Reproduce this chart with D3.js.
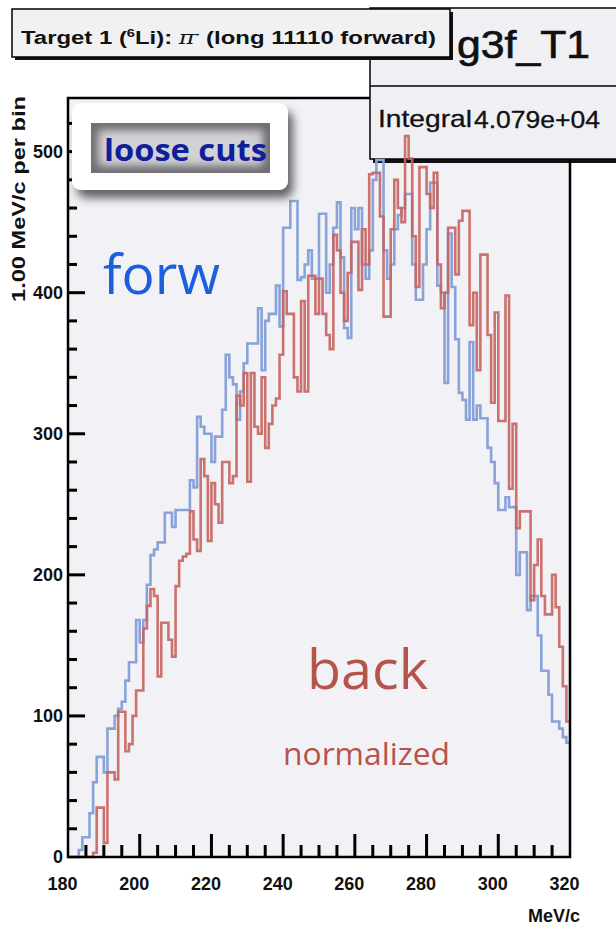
<!DOCTYPE html>
<html><head><meta charset="utf-8">
<script src="https://cdn.jsdelivr.net/npm/d3@7"></script>
<style>
html,body{margin:0;padding:0;background:#fff;}
svg{display:block;}
</style></head>
<body>
<svg id="c" width="616" height="942" xmlns="http://www.w3.org/2000/svg"></svg>
<script>
// ---- data: bin lower edges 180..319 (1 MeV/c per bin) ----
const binStart = 180, binWidth = 1;
const forwValues = [
  0,0,0,5,14,14,31,53,71,71,            // 180-189
  60,91,91,100,105,110,125,138,138,168, // 190-199
  152,168,193,214,218,223,223,244,244,234, // 200-209
  246,246,246,246,267,262,312,305,300,300, // 210-219
  280,298,298,317,356,340,335,310,330,350, // 220-229
  364,364,364,389,345,380,385,385,405,376, // 230-239
  446,446,465,465,409,411,420,430,410,410, // 240-249
  456,456,400,420,446,464,425,375,368,460, // 250-259
  445,460,420,410,430,480,494,494,430,410, // 260-269
  420,445,455,460,470,470,420,395,395,420, // 270-279
  445,478,478,405,400,336,442,404,367,329, // 280-289
  324,310,365,310,320,311,311,290,280,265, // 290-299
  246,246,255,248,248,200,216,216,175,185, // 300-309
  185,157,132,132,115,96,96,91,85,81       // 310-319
];
const backValues = [
  0,0,0,0,0,0,0,3,35,35,                // 180-189
  10,60,60,55,103,103,75,80,100,118,    // 190-199
  118,162,178,190,185,128,166,166,154,142, // 200-209
  192,210,213,215,245,225,217,282,270,224, // 210-219
  265,250,237,280,280,265,270,327,320,343, // 220-229
  266,343,305,300,340,290,307,320,325,356, // 230-239
  401,385,385,340,330,394,330,412,412,385, // 240-249
  410,385,370,360,441,430,400,380,414,436, // 250-259
  436,402,445,420,484,485,485,454,383,383, // 260-269
  445,480,460,450,511,495,440,404,489,489, // 270-279
  470,460,485,420,389,400,446,446,413,451, // 280-289
  458,458,377,400,345,427,427,370,322,386, // 290-299
  309,309,398,261,307,233,245,245,245,182, // 300-309
  207,225,185,172,172,200,177,149,121,96   // 310-319
];
const xTickValues = [180,200,220,240,260,280,300,320];
const xMinorValues = [185,190,195,205,210,215,225,230,235,245,250,255,265,270,275,285,290,295,305,310,315];
const yTickValues = [0,100,200,300,400,500];
const yMinorValues = [20,40,60,80,120,140,160,180,220,240,260,280,320,340,360,380,420,440,460,480,520];
const histName = "g3f_T1";
const statLabel = "Integral";
const statValue = "4.079e+04";
const xTitle = "MeV/c";
const yTitle = "1.00 MeV/c per bin";

// ---- layout ----
const svg = d3.select("#c");
const F = {left:68, right:570, top:98, bottom:857};
const xs = d3.scaleLinear().domain([180,320]).range([F.left,F.right]);
const ys = d3.scaleLinear().domain([0,538]).range([F.bottom,F.top]);
const HF = "'Liberation Sans', Arial, Helvetica, sans-serif";
const AF = "'Open Sans', 'Noto Sans', sans-serif";

const defs = svg.append("defs");
const f1 = defs.append("filter").attr("id","shadow").attr("x","-20%").attr("y","-20%").attr("width","150%").attr("height","170%");
f1.append("feDropShadow").attr("dx",5).attr("dy",8).attr("stdDeviation",5).attr("flood-color","#000").attr("flood-opacity",0.6);
const f2 = defs.append("filter").attr("id","blur4");
f2.append("feGaussianBlur").attr("stdDeviation",4);
defs.append("clipPath").attr("id","innerClip").append("rect")
  .attr("x",91).attr("y",123).attr("width",179).attr("height",50);

function fit(sel, w){
  const n = sel.node(); const L = n.getComputedTextLength();
  if (L>0) sel.attr("textLength", w).attr("lengthAdjust","spacingAndGlyphs");
}

// frame fill
svg.append("rect").attr("x",F.left).attr("y",F.top).attr("width",F.right-F.left).attr("height",F.bottom-F.top)
  .attr("fill","#f1f1f6");

// tick labels via d3 axes
const yAx = svg.append("g").attr("transform",`translate(${F.left},0)`)
  .call(d3.axisLeft(ys).tickValues(yTickValues).tickSize(0).tickPadding(5).tickFormat(d3.format("d")));
const xAx = svg.append("g").attr("transform",`translate(0,${F.bottom})`)
  .call(d3.axisBottom(xs).tickValues(xTickValues).tickSize(0).tickPadding(20).tickFormat(d3.format("d")));
[yAx,xAx].forEach(g=>{
  g.select(".domain").remove();
  g.selectAll("text").attr("font-family",HF).attr("font-weight","bold").attr("font-size",18).attr("fill","#111");
});
xAx.selectAll("text").attr("dx",-6);

// stats box (under title box)
svg.append("rect").attr("x",373).attr("y",11).attr("width",260).attr("height",152).attr("fill","#111");
svg.append("rect").attr("x",370).attr("y",8).attr("width",260).attr("height",151)
  .attr("fill","#f0f0f4").attr("stroke","#000").attr("stroke-width",1.5);
svg.append("line").attr("x1",370).attr("x2",616).attr("y1",86).attr("y2",86).attr("stroke","#000").attr("stroke-width",1.5);
const gN = svg.append("text").attr("x",457).attr("y",58).attr("font-family",HF).attr("font-size",38)
  .attr("stroke","#111").attr("stroke-width",0.7).attr("fill","#111").text(histName);
fit(gN,133);
const sL = svg.append("text").attr("x",378).attr("y",127).attr("font-family",HF).attr("font-size",24)
  .attr("stroke","#111").attr("stroke-width",0.3).attr("fill","#111").text(statLabel);
fit(sL,94);
const sV = svg.append("text").attr("x",474).attr("y",128).attr("font-family",HF).attr("font-size",24)
  .attr("stroke","#111").attr("stroke-width",0.3).attr("fill","#111").text(statValue);
fit(sV,126);

// title box
svg.append("rect").attr("x",15).attr("y",12).attr("width",438).attr("height",48).attr("fill","#111");
svg.append("rect").attr("x",12).attr("y",9).attr("width",438).attr("height",48)
  .attr("fill","#f1f1f4").attr("stroke","#000").attr("stroke-width",1.5);
const tt = svg.append("text").attr("x",21).attr("y",44).attr("font-family",HF).attr("font-size",18)
  .attr("font-weight","bold").attr("fill","#111");
tt.append("tspan").text("Target 1 (");
tt.append("tspan").attr("dy",-7).attr("font-size",11).text("6");
tt.append("tspan").attr("dy",7).text("Li): ");
tt.append("tspan").attr("font-family","'DejaVu Serif', serif").attr("font-style","italic").attr("font-weight","normal").text("\u03c0");
tt.append("tspan").attr("dy",-7).attr("font-size",11).text("-");
tt.append("tspan").attr("dy",7).text(" (long 11110 forward)");
fit(tt,415);

// histograms
const pts = vals => vals.map((v,i)=>[binStart+i*binWidth, v]).concat([[binStart+vals.length*binWidth, vals[vals.length-1]]]);
const line = d3.line().x(d=>xs(d[0])).y(d=>ys(d[1])).curve(d3.curveStepAfter);
svg.append("path").attr("d",line(pts(forwValues))).attr("fill","none")
  .attr("stroke","#88a3da").attr("stroke-width",2.6);
svg.append("path").attr("d",line(pts(backValues))).attr("fill","none")
  .attr("stroke","#c8645f").attr("stroke-width",2.6).attr("stroke-opacity",0.9);

// frame border
svg.append("path").attr("d",`M370,${F.top}H${F.left}V${F.bottom}H${F.right}V160`)
  .attr("fill","none").attr("stroke","#000").attr("stroke-width",2.5);

// ticks inside the frame, positioned by the scales
const tg = svg.append("g");
tg.selectAll("rect.ymaj").data(yTickValues.filter(v=>v>0)).enter().append("rect").attr("class","ymaj")
  .attr("x",F.left).attr("y",d=>ys(d)-1.5).attr("width",17).attr("height",3).style("fill","#000");
tg.selectAll("rect.ymin").data(yMinorValues).enter().append("rect").attr("class","ymin")
  .attr("x",F.left).attr("y",d=>ys(d)-1.5).attr("width",9).attr("height",3).style("fill","#000");
tg.selectAll("rect.xmaj").data(xTickValues.slice(1,-1)).enter().append("rect").attr("class","xmaj")
  .attr("x",d=>xs(d)-1.5).attr("y",F.bottom-23).attr("width",3).attr("height",23).style("fill","#000");
tg.selectAll("rect.xmin").data(xMinorValues).enter().append("rect").attr("class","xmin")
  .attr("x",d=>xs(d)-1.5).attr("y",F.bottom-12).attr("width",3).attr("height",12).style("fill","#000");

// axis titles
const xt = svg.append("text").attr("x",580).attr("y",922).attr("text-anchor","end").attr("font-family",HF)
  .attr("font-weight","bold").attr("font-size",18).attr("fill","#111").text(xTitle);
fit(xt,52);
const yt = svg.append("text").attr("transform","translate(25,96) rotate(-90)").attr("text-anchor","end")
  .attr("font-family",HF).attr("font-weight","bold").attr("font-size",18).attr("fill","#111").text(yTitle);
fit(yt,206);

// "loose cuts" box
svg.append("rect").attr("x",72).attr("y",103).attr("width",216).attr("height",87).attr("rx",9)
  .attr("fill","#fff").attr("filter","url(#shadow)");
svg.append("rect").attr("x",91).attr("y",123).attr("width",179).attr("height",50).attr("fill","#d2d2d5");
svg.append("rect").attr("x",91).attr("y",123).attr("width",179).attr("height",50).attr("fill","none")
  .attr("stroke","#6a6a6e").attr("stroke-width",14).attr("filter","url(#blur4)").attr("clip-path","url(#innerClip)");
const lc = svg.append("text").attr("x",104).attr("y",161).attr("font-family",AF).attr("font-weight","bold")
  .attr("font-size",31).attr("fill","#0f1f9c").text("loose cuts");
fit(lc,163);

// annotations
const fw = svg.append("text").attr("x",103).attr("y",294).attr("font-family",AF).attr("font-size",54)
  .attr("fill","#1b5fdc").text("forw");
fit(fw,117);
const bk = svg.append("text").attr("x",307).attr("y",689).attr("font-family",AF).attr("font-size",54)
  .attr("fill","#b5544b").text("back");
fit(bk,121);
const nm = svg.append("text").attr("x",283).attr("y",765).attr("font-family",AF).attr("font-size",31)
  .attr("fill","#b5544b").text("normalized");
fit(nm,167);
</script>
</body></html>
